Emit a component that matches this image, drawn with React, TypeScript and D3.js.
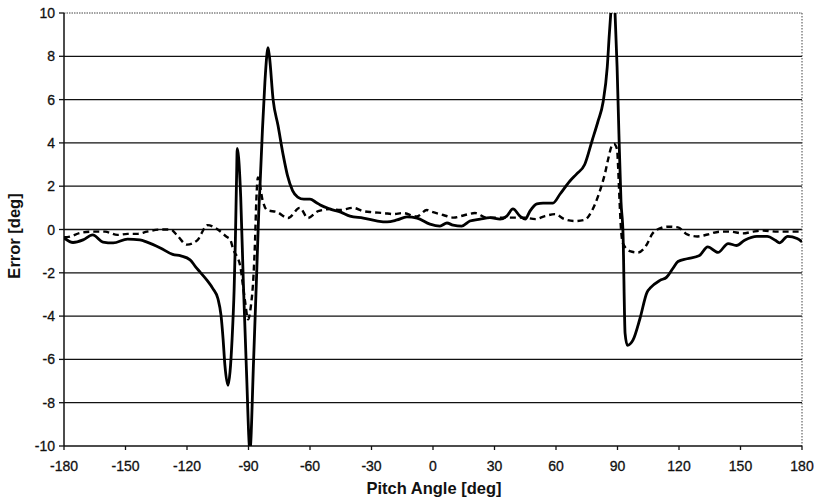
import * as d3 from 'd3';

const X_TICKS = [-180, -150, -120, -90, -60, -30, 0, 30, 60, 90, 120, 150, 180];
const Y_TICKS = [-10, -8, -6, -4, -2, 0, 2, 4, 6, 8, 10];

// solid curve
const solidAngles = [
  -180, -175.6, -170.7, -166, -161, -156, -149, -143, -139.5, -133, -127, -123, -118.5, -116, -113.7,
  -110.2, -107.3, -104.9, -103.4, -102.4, -101.5, -100, -99, -98, -97, -96.4, -95.8, -95.5, -94.8,
  -93.8, -92.5, -91, -89.3, -87.5, -86, -85, -84.3, -83.2, -82, -81, -80.5, -79.8, -78, -75.6, -73,
  -71, -68.5, -66, -63, -60, -57, -55, -50, -45, -40.5, -34, -27, -22.4, -17.6, -12.7, -7.8, -1.5,
  3.4, 6.8, 9.8, 14, 18, 23, 27.8, 32.7, 36, 39, 42.4, 45, 47.3, 50.7, 53.7, 58.5, 62, 66.8, 70, 74,
  77.6, 80.5, 83, 85, 86, 86.8, 88, 88.8, 89.8, 90.7, 91.7, 92.7, 93.7, 94.8, 97.6, 101, 104.4, 106,
  110.7, 114, 117, 119.5, 124, 130, 134, 139, 144, 148, 152, 158, 163, 167, 169, 173, 177.6, 180,
];
const solidErrors = [
  -0.39, -0.6, -0.48, -0.25, -0.58, -0.62, -0.44, -0.48, -0.58, -0.85, -1.15, -1.22, -1.4, -1.7, -1.96,
  -2.35, -2.74, -3.2, -3.97, -5.05, -6.28, -7.2, -6.57, -5.05, -2.74, -0.5, 2.5, 3.75, 3.3,
  1.5, -2.5, -6.5, -10.2, -6, -2, 0.8, 2.2, 4.6, 6.8, 8.1, 8.4, 8.0, 6.0, 4.8, 3.4,
  2.5, 1.8, 1.5, 1.4, 1.4, 1.25, 1.13, 0.94, 0.8, 0.62, 0.53, 0.39, 0.35, 0.44, 0.58, 0.53, 0.25,
  0.16, 0.3, 0.2, 0.16, 0.39, 0.48, 0.55, 0.48, 0.62, 0.95, 0.62, 0.48, 0.85, 1.18, 1.22, 1.22, 1.64, 2.24, 2.56, 3.0,
  4.1, 5.0, 5.9, 7.5, 9.0, 10.1, 11.5, 10, 7.5, 4.4, 1.3, -0.2, -4.8, -5.35, -5.1, -4.1, -2.9, -2.7,
  -2.35, -2.2, -1.8, -1.48, -1.35, -1.2, -0.8, -1.06, -0.65, -0.74, -0.5, -0.32, -0.32, -0.5, -0.62, -0.32, -0.42, -0.57,
];

// dashed curve
const dashedAngles = [
  -180, -178.5, -172, -166, -160, -154, -149, -144, -139.5, -133, -128, -125, -120, -115, -110, -105,
  -100.5, -99, -97.5, -94, -92.7, -91.7, -90.2, -88.8, -87.6, -86.8, -86.2, -85.4, -83, -81, -76,
  -70.7, -65, -61, -56, -50, -45, -39, -34, -30, -24, -19.5, -14.6, -8, -3, -1.5, 5, 10, 15.6, 20.5,
  26, 34, 44, 50, 54.6, 59.5, 64, 69, 74, 77.6, 80, 82.4, 84, 85.4, 87.3, 88.3, 89.8, 90.2, 90.7,
  91.2, 91.8, 92.7, 96, 100, 104, 107, 110.7, 114.6, 119.5, 124, 129, 134, 140, 145, 151, 156, 161,
  168, 172.7, 177.6, 180,
];
const dashedErrors = [
  -0.35, -0.35, -0.16, -0.1, -0.1, -0.25, -0.2, -0.2, -0.1, 0.0, 0.0, -0.25, -0.7, -0.5, 0.2, 0.0,
  -0.35, -0.45, -0.9, -1.7, -2.6, -3.3, -4.15, -3.5, -2.2, -0.5, 1.3, 2.4, 1.3, 0.9, 0.8,
  0.53, 1.0, 0.53, 0.85, 0.94, 0.9, 1.0, 0.85, 0.8, 0.76, 0.71, 0.76, 0.6, 0.9, 0.85, 0.67, 0.55, 0.67, 0.76,
  0.55, 0.55, 0.55, 0.48, 0.62, 0.71, 0.48, 0.39, 0.45, 0.88, 1.4, 2.08, 2.63, 3.23, 3.88, 3.95, 3.7, 3.1, 2.0,
  0.9, -0.1, -0.65, -1.0, -1.06, -0.74, -0.2, 0.05, 0.13, 0.1, -0.23, -0.32, -0.23, -0.1, -0.1, -0.18, -0.1, -0.05,
  -0.1, -0.1, -0.1, -0.1,
];

export default function App() {
  const width = 814;
  const height = 503;
  const left = 64;
  const right = 802;
  const top = 13;
  const bottom = 446;

  const x = d3.scaleLinear().domain([-180, 180]).range([left, right]);
  const y = d3.scaleLinear().domain([-10, 10]).range([bottom, top]);

  const line = d3
    .line<[number, number]>()
    .x((d) => x(d[0]))
    .y((d) => y(d[1]))
    .curve(d3.curveMonotoneX);

  const solid = solidAngles.map((a, i) => [a, solidErrors[i]] as [number, number]);
  const dashed = dashedAngles.map((a, i) => [a, dashedErrors[i]] as [number, number]);

  const font = '"Liberation Sans", Arial, sans-serif';

  return (
    <svg
      width={width}
      height={height}
      viewBox={`0 0 ${width} ${height}`}
      style={{ position: 'absolute', left: 0, top: 0, background: '#fff' }}
    >
      <defs>
        <clipPath id="plot">
          <rect x={left} y={top} width={right - left} height={bottom - top} />
        </clipPath>
      </defs>

      {/* grid */}
      {Y_TICKS.filter((t) => t > -10 && t < 10).map((t) => (
        <line key={t} x1={left} x2={right} y1={y(t)} y2={y(t)} stroke="#111" strokeWidth={1.3} />
      ))}
      <line x1={left} x2={right} y1={y(10)} y2={y(10)} stroke="#444" strokeWidth={1} strokeDasharray="1.5 1" />
      <line x1={right} x2={right} y1={top} y2={bottom} stroke="#444" strokeWidth={1} strokeDasharray="1.5 1.5" />

      {/* axes */}
      <line x1={left} x2={left} y1={top} y2={bottom} stroke="#111" strokeWidth={1.5} />
      <line x1={left} x2={right} y1={bottom} y2={bottom} stroke="#111" strokeWidth={1.5} />
      {Y_TICKS.map((t) => (
        <g key={t}>
          <line x1={left - 5} x2={left} y1={y(t)} y2={y(t)} stroke="#111" strokeWidth={1.3} />
          <text
            x={left - 9}
            y={y(t)}
            dy="0.36em"
            textAnchor="end"
            fontSize={14}
            fontFamily={font}
            fill="#111"
            stroke="#111"
            strokeWidth={0.3}
          >
            {t}
          </text>
        </g>
      ))}
      {X_TICKS.map((t) => (
        <g key={t}>
          <line x1={x(t)} x2={x(t)} y1={bottom} y2={bottom + 4} stroke="#111" strokeWidth={1.3} />
          <text
            x={x(t)}
            y={bottom + 25}
            textAnchor="middle"
            fontSize={14}
            fontFamily={font}
            fill="#111"
            stroke="#111"
            strokeWidth={0.3}
          >
            {t}
          </text>
        </g>
      ))}

      {/* series */}
      <g clipPath="url(#plot)" fill="none" stroke="#000" strokeLinejoin="round">
        <path d={line(dashed) ?? ''} strokeWidth={2.4} strokeDasharray="6 4" />
        <path d={line(solid) ?? ''} strokeWidth={2.8} />
      </g>

      {/* titles */}
      <text
        x={434}
        y={494}
        textAnchor="middle"
        fontSize={16.5}
        fontWeight="bold"
        fontFamily={font}
        fill="#111"
      >
        Pitch Angle [deg]
      </text>
      <text
        transform="translate(20,236) rotate(-90)"
        textAnchor="middle"
        fontSize={16.5}
        fontWeight="bold"
        fontFamily={font}
        fill="#111"
      >
        Error [deg]
      </text>
    </svg>
  );
}
